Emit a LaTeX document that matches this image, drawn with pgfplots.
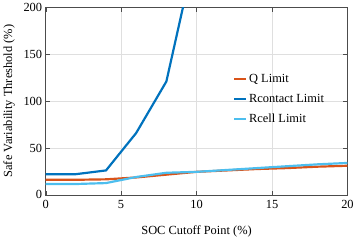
\documentclass[border=0pt]{standalone}
\usepackage{pgfplots}
\pgfplotsset{compat=1.18}
\usepackage{fontspec}
\setmainfont{Liberation Serif}
\definecolor{qc}{rgb}{0.850,0.325,0.098}
\definecolor{rc}{rgb}{0.000,0.447,0.741}
\definecolor{lc}{rgb}{0.302,0.745,0.933}
\begin{document}
\begin{tikzpicture}
\begin{axis}[
  scale only axis, width=303bp, height=188bp,
  xmin=0, xmax=20, ymin=0, ymax=200,
  xtick={0,5,10,15,20}, ytick={0,50,100,150,200},
  grid=major, grid style={gray!25, line width=0.4pt},
  tick align=inside, tick style={black!70},
  axis line style={black!70},
  font=\fontsize{12.5}{15}\selectfont,
  /pgf/number format/assume math mode=true,
  xlabel={SOC Cutoff Point (\%)},
  ylabel={Safe Variability Threshold (\%)},
  ylabel style={yshift=2pt},
  xlabel style={yshift=-10pt},
  xticklabel style={yshift=-2pt},
  legend style={draw=none, fill=none, at={(0.61,0.665)}, anchor=north west, font=\fontsize{12.5}{15}\selectfont, row sep=6pt},
  legend cell align=left,
  legend image code/.code={\draw[#1, line width=2.4pt] (0cm,0cm) -- (0.42cm,0cm);},
  every axis plot/.append style={line width=2.2pt},
  clip=true,
]
\addplot[qc] coordinates {(0,16) (2,16) (4,16.5) (6,18.5) (8,21.5) (10,24.5) (12,26) (14,27.5) (16,28.5) (18,30) (20,31)};
\addlegendentry{Q Limit}
\addplot[rc] coordinates {(0,22) (2,22) (4,26) (6,66) (8,121) (10,265)};
\addlegendentry{Rcontact Limit}
\addplot[lc] coordinates {(0,11.5) (2,11.5) (4,12.5) (6,19) (8,23.5) (10,24.5) (12,26.5) (14,28.5) (16,30.5) (18,32.5) (20,34)};
\addlegendentry{Rcell Limit}
\end{axis}
\end{tikzpicture}
\end{document}
